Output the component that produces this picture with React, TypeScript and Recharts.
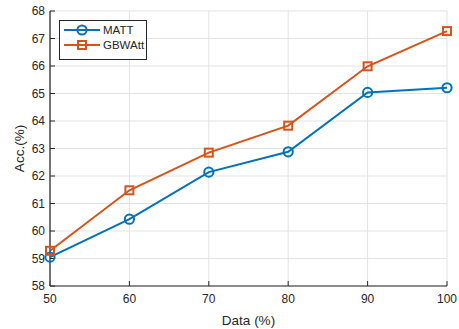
import React from "react";
import {
  LineChart,
  Line,
  XAxis,
  YAxis,
  CartesianGrid,
  Legend,
  Label,
} from "recharts";

const dataPct = [50, 60, 70, 80, 90, 100];
const mattAcc = [59.05, 60.43, 62.14, 62.88, 65.04, 65.21];
const gbwattAcc = [59.28, 61.48, 62.85, 63.83, 65.99, 67.27];
const yTicks = [58, 59, 60, 61, 62, 63, 64, 65, 66, 67, 68];

const rows = dataPct.map((x, i) => ({ x, matt: mattAcc[i], gbwatt: gbwattAcc[i] }));

const BLUE = "#0072BD";
const ORANGE = "#D95319";
const AXIS = "#262626";
const FONT = "'Liberation Sans', Arial, Helvetica, sans-serif";

const tickStyle = { fontSize: 12, fill: AXIS, fontFamily: FONT };

const CircleDot = (props: any) => {
  const { cx, cy, index } = props;
  if (cx == null || cy == null) return null;
  return <circle key={`c-${index}`} cx={cx} cy={cy} r={4.6} fill="none" stroke={BLUE} strokeWidth={2} />;
};

const SquareDot = (props: any) => {
  const { cx, cy, index } = props;
  if (cx == null || cy == null) return null;
  return <rect key={`s-${index}`} x={cx - 4} y={cy - 4} width={8} height={8} fill="none" stroke={ORANGE} strokeWidth={2} />;
};

const LegendBox = () => (
  <div
    style={{
      border: `1px solid ${AXIS}`,
      background: "#fff",
      width: 86,
      height: 38,
      fontFamily: FONT,
      fontSize: 11.5,
      color: AXIS,
      position: "relative",
    }}
  >
    {[
      { name: "MATT", color: BLUE, mark: "circle" },
      { name: "GBWAtt", color: ORANGE, mark: "square" },
    ].map((item, i) => (
      <div key={item.name} style={{ position: "absolute", left: 3, top: 2 + i * 15, height: 14, display: "flex", alignItems: "center" }}>
        <svg width={38} height={14}>
          <line x1={1} y1={7} x2={37} y2={7} stroke={item.color} strokeWidth={2} />
          {item.mark === "circle" ? (
            <circle cx={19} cy={7} r={4.6} fill="none" stroke={item.color} strokeWidth={2} />
          ) : (
            <rect x={15} y={3} width={8} height={8} fill="none" stroke={item.color} strokeWidth={2} />
          )}
        </svg>
        <span style={{ marginLeft: 2 }}>{item.name}</span>
      </div>
    ))}
  </div>
);

const YLabel = (props: any) => {
  const { viewBox } = props;
  const cx = viewBox.x + 19;
  const cy = viewBox.y + viewBox.height / 2;
  return (
    <text
      x={cx}
      y={cy}
      transform={`rotate(-90, ${cx}, ${cy})`}
      textAnchor="middle"
      dominantBaseline="central"
      style={{ fontSize: 13.5, fill: AXIS, fontFamily: FONT }}
    >
      Acc.(%)
    </text>
  );
};

export default function App() {
  return (
    <div style={{ position: "absolute", left: 0, top: 0, background: "#fff" }}>
      <LineChart
        width={459}
        height={329}
        data={rows}
        margin={{ top: 11, right: 12, left: 0, bottom: 0 }}
      >
        <CartesianGrid stroke="#e3e3e3" strokeWidth={1} />
        <XAxis
          dataKey="x"
          type="number"
          domain={[50, 100]}
          ticks={dataPct}
          height={43}
          tick={tickStyle}
          tickSize={-5}
          tickMargin={13}
          tickLine={{ stroke: AXIS }}
          axisLine={{ stroke: AXIS, strokeWidth: 1.2 }}
        >
          <Label value="Data (%)" position="insideBottom" offset={4} style={{ fontSize: 13.5, fill: AXIS, fontFamily: FONT }} />
        </XAxis>
        <XAxis
          xAxisId="top"
          orientation="top"
          dataKey="x"
          type="number"
          domain={[50, 100]}
          ticks={dataPct}
          height={0}
          tick={false}
          tickSize={-5}
          tickLine={{ stroke: AXIS }}
          axisLine={{ stroke: AXIS, strokeWidth: 1.2 }}
        />
        <YAxis
          type="number"
          domain={[58, 68]}
          ticks={yTicks}
          width={50}
          interval={0}
          tick={tickStyle}
          tickSize={-5}
          tickMargin={10}
          tickLine={{ stroke: AXIS }}
          axisLine={{ stroke: "#555", strokeWidth: 1.6 }}
        >
          <Label content={<YLabel />} />
        </YAxis>
        <YAxis
          yAxisId="right"
          orientation="right"
          type="number"
          domain={[58, 68]}
          ticks={yTicks}
          width={0}
          interval={0}
          tick={false}
          tickSize={-5}
          tickLine={{ stroke: AXIS }}
          axisLine={{ stroke: "#555", strokeWidth: 1.6 }}
        />
        <Legend
          layout="horizontal"
          verticalAlign="middle"
          align="center"
          content={<LegendBox />}
          wrapperStyle={{ top: 20, left: 59, width: 88, height: 40 }}
        />
        <Line
          dataKey="matt"
          name="MATT"
          stroke={BLUE}
          strokeWidth={2}
          dot={<CircleDot />}
          activeDot={false}
          isAnimationActive={false}
        />
        <Line
          dataKey="gbwatt"
          name="GBWAtt"
          stroke={ORANGE}
          strokeWidth={2}
          dot={<SquareDot />}
          activeDot={false}
          isAnimationActive={false}
        />
      </LineChart>
    </div>
  );
}
